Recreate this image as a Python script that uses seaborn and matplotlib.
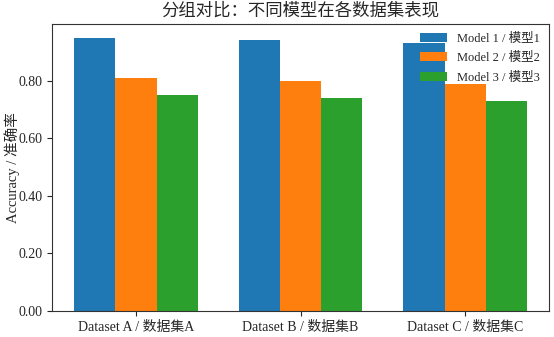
import matplotlib
matplotlib.use("Agg")
import matplotlib.pyplot as plt
import seaborn as sns
import pandas as pd

datasets = ["Dataset A / 数据集A", "Dataset B / 数据集B", "Dataset C / 数据集C"]
models = ["Model 1 / 模型1", "Model 2 / 模型2", "Model 3 / 模型3"]
model1 = [0.95, 0.94, 0.93]
model2 = [0.81, 0.80, 0.79]
model3 = [0.75, 0.74, 0.73]
colors = ["#1f77b4", "#ff7f0e", "#2ca02c"]

sns.set_style("ticks")
plt.rcParams["font.family"] = ["Liberation Serif", "Noto Sans CJK SC"]
plt.rcParams["axes.unicode_minus"] = False

rows = []
for name, vals in zip(models, [model1, model2, model3]):
    for ds, v in zip(datasets, vals):
        rows.append({"dataset": ds, "model": name, "accuracy": v})
df = pd.DataFrame(rows)

fig = plt.figure(figsize=(5.54, 3.37), dpi=100)
ax = fig.add_axes([0.094, 0.077, 0.897, 0.852])

sns.barplot(data=df, x="dataset", y="accuracy", hue="model",
            order=datasets, hue_order=models, palette=colors,
            width=0.75, gap=0, saturation=1, errorbar=None,
            linewidth=0, edgecolor="none", ax=ax)

ax.set_xlim(-0.51, 2.51)
ax.set_ylim(0, max(model1) * 1.05)
ticks = [0.0, 0.2, 0.4, 0.6, 0.8]
ax.set_yticks(ticks)
ax.set_yticklabels([f"{t:.2f}" for t in ticks])
ax.set_xlabel("")
ax.set_ylabel("Accuracy / 准确率", fontsize=10.5)
ax.yaxis.set_label_coords(-0.064, 0.5)
ax.tick_params(axis="both", labelsize=10, direction="out", length=3.5, width=0.8)
for s in ax.spines.values():
    s.set_visible(True)
    s.set_linewidth(0.8)
    s.set_color("#333333")

ax.set_title("分组对比：不同模型在各数据集表现", fontsize=12.5, pad=6)
ax.legend(loc="upper right", frameon=False, fontsize=9, title=None,
          handlelength=2.2, labelspacing=0.6, borderaxespad=0.3)

fig.savefig("out.png", dpi=100)
